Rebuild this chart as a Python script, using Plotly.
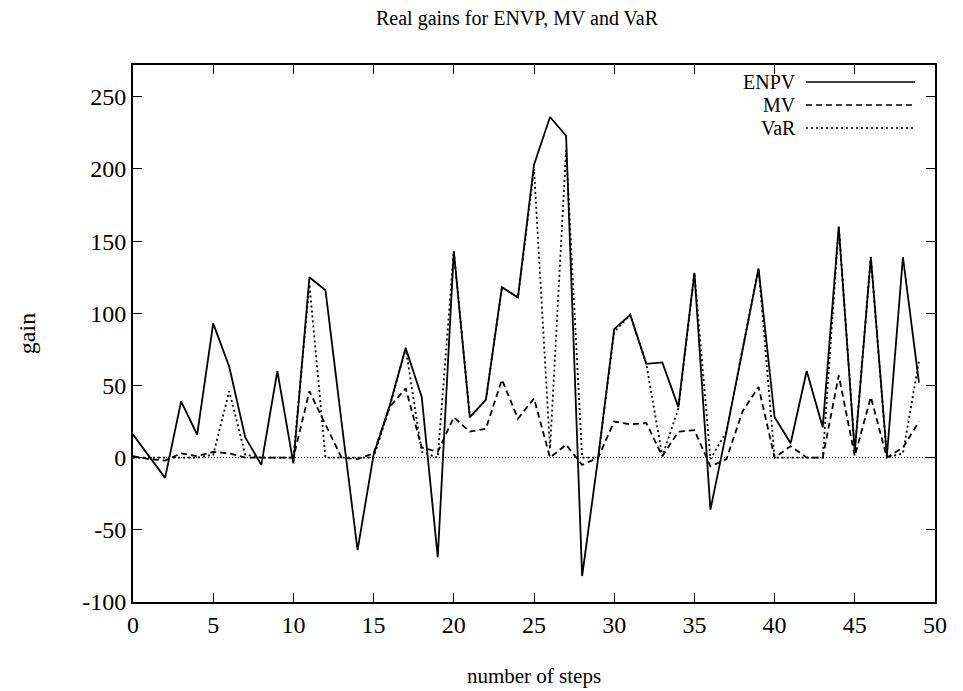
import plotly.graph_objects as go

steps = list(range(50))
enpv = [16, 1, -14, 39, 16, 93, 63, 14, -5, 60,
        -4, 125, 116, 25, -64, 2, 36, 76, 42, -69,
        143, 28, 40, 118, 111, 203, 236, 223, -82, 0,
        89, 99, 65, 66, 35, 128, -36, 18, 75, 131,
        28, 10, 60, 21, 160, 4, 139, 1, 139, 52]
mv = [1, -1, -2, 3, 1, 4, 3, 0, 0, 0,
      0, 46, 23, 0, -1, 3, 35, 48, 7, 4,
      28, 18, 20, 54, 27, 41, 0, 9, -5, 0,
      25, 23, 24, 1, 18, 19, -6, -1, 32, 49,
      0, 8, 0, 0, 57, 1, 42, 0, 7, 25]
var = [0, 0, 0, 0, 0, 2, 46, 2, 0, 0,
       0, 120, 0, 0, 0, 0, 35, 76, 4, 0,
       143, 28, 40, 118, 111, 200, 6, 213, 0, 0,
       87, 99, 65, 1, 34, 128, -1, 18, 75, 131,
       0, 0, 0, 0, 160, 5, 139, 0, 3, 67]

series_names = ["ENPV", "MV", "VaR"]
x_ticks = list(range(0, 51, 5))
y_ticks = list(range(-100, 251, 50))

FONT = "Liberation Serif"
L, R, T, B = 133, 28, 65, 89
W, H = 963, 691

fig = go.Figure()
styles = {"ENPV": "solid", "MV": "6px,4px", "VaR": "2px,3px"}
data = {"ENPV": enpv, "MV": mv, "VaR": var}
for name in series_names:
    fig.add_trace(go.Scatter(x=steps, y=data[name], mode="lines", name=name,
                             line=dict(color="black", width=1.8, dash=styles[name]),
                             showlegend=False))

# zero axis (dotted)
fig.add_shape(type="line", xref="x domain", yref="y", x0=0, x1=1, y0=0, y1=0,
              line=dict(color="black", width=1, dash="1px,2px"))

# manual legend (text left of sample, gnuplot style)
pw = W - L - R
ph = H - T - B
def px_to_paper_x(px):
    return (px - L) / pw
def px_to_paper_y(py):
    return 1 - (py - T) / ph

leg_y = [82, 105, 128]
for name, ly in zip(series_names, leg_y):
    fig.add_annotation(xref="paper", yref="paper", x=px_to_paper_x(797), y=px_to_paper_y(ly),
                       text=name, showarrow=False, xanchor="right", yanchor="middle",
                       borderpad=0,
                       font=dict(family=FONT, size=20, color="black"))
    fig.add_shape(type="line", xref="paper", yref="paper",
                  x0=px_to_paper_x(806), x1=px_to_paper_x(915),
                  y0=px_to_paper_y(ly), y1=px_to_paper_y(ly),
                  line=dict(color="black", width=1.5, dash=styles[name]))

fig.update_layout(
    width=W, height=H,
    margin=dict(l=L, r=R, t=T, b=B, autoexpand=False),
    paper_bgcolor="white", plot_bgcolor="white",
    font=dict(family=FONT, size=24, color="black"),
    title=dict(text="Real gains for ENVP, MV and VaR", x=517 / W, xanchor="center",
               y=1 - 18 / H, yanchor="middle", xref="container",
               font=dict(family=FONT, size=20, color="black")),
    showlegend=False,
)
fig.update_xaxes(range=[0, 50], tickvals=x_ticks, ticktext=[str(v) for v in x_ticks],
                 ticks="inside", ticklen=9, tickcolor="black", tickwidth=1.2,
                 showline=True, linecolor="black", linewidth=1.8, mirror="ticks",
                 showgrid=False, zeroline=False, tickfont=dict(family=FONT, size=24),
                 automargin=False,
                 title=dict(text="number of steps", font=dict(family=FONT, size=21), standoff=32))
fig.update_yaxes(range=[-100, 272], tickvals=y_ticks, ticktext=[str(v) for v in y_ticks],
                 ticks="inside", ticklen=9, tickcolor="black", tickwidth=1.2,
                 showline=True, linecolor="black", linewidth=1.8, mirror="ticks",
                 showgrid=False, zeroline=False, tickfont=dict(family=FONT, size=24),
                 automargin=False,
                 title=dict(text="gain", font=dict(family=FONT, size=24), standoff=40))

fig.write_html("out.html")
